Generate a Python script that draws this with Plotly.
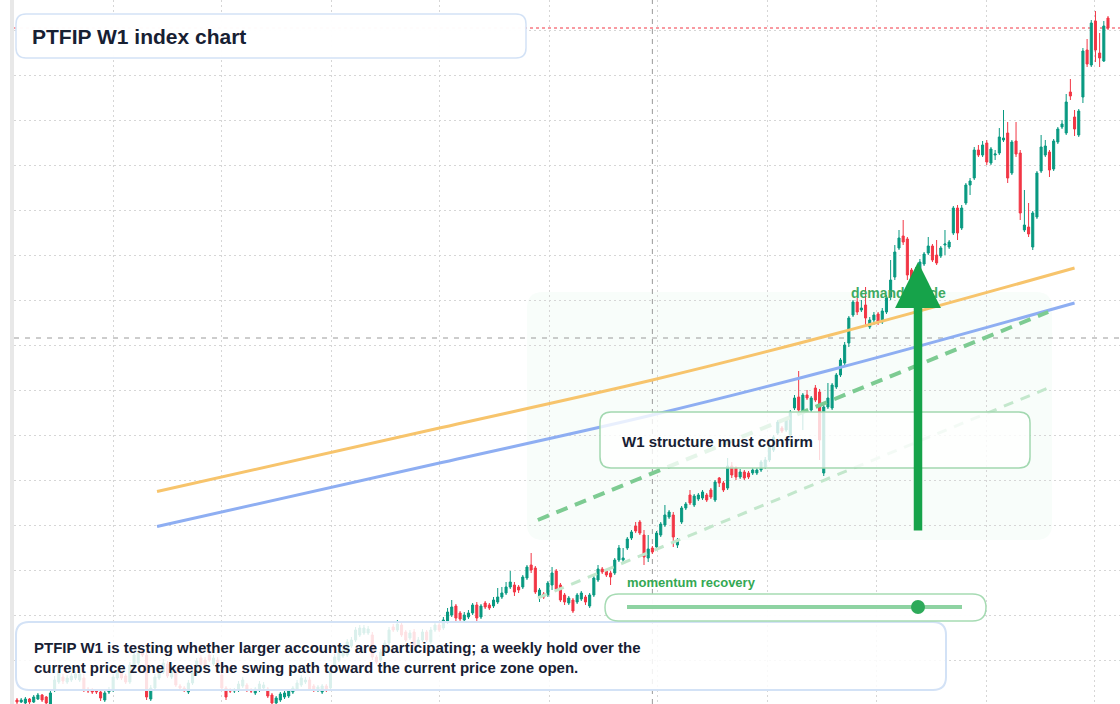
import pandas as pd
import plotly.graph_objects as go

# ---------------- data (weekly candles) ----------------
start_date = "2020-07-23"
n_weeks = 262
dates = pd.date_range(start_date, periods=n_weeks, freq="7D")

open_ = [105,103,102,106,103,106,110,108,101,115,123,128,123,125,127,125,127,116,115,115,
         113,105,113,115,127,132,129,123,138,142,155,150,106,117,127,133,141,128,134,119,
         117,113,122,131,147,145,150,141,145,130,117,115,114,115,119,120,115,112,115,117,
         116,110,102,105,108,109,113,116,120,123,125,119,115,113,119,117,140,145,149,150,
         159,165,170,172,172,170,148,145,153,162,178,175,180,173,167,173,160,165,173,163,
         175,180,177,183,190,199,192,185,188,192,200,188,202,200,199,203,208,212,218,220,
         218,218,227,240,237,208,211,210,220,234,220,210,202,205,203,206,208,199,210,225,
         236,234,232,232,245,245,257,267,279,283,270,247,257,258,270,280,288,290,260,283,
         297,310,300,306,307,310,315,305,327,322,317,339,337,328,333,332,332,332,335,338,
         345,355,372,377,375,370,397,408,393,410,395,417,413,332,398,397,418,430,442,462,
         490,503,495,500,478,485,491,483,493,508,528,557,569,566,535,525,535,541,552,559,
         550,549,560,558,572,597,577,602,620,627,655,650,662,642,650,652,665,672,632,664,
         652,575,578,558,588,634,650,653,636,663,678,672,713,688,670,708,755,740,784,752,
         744,787]
high = [107,107,108,107,110,112,111,109,115,129,138,131,130,132,134,136,131,118,117,116,
        115,114,118,131,136,134,131,143,153,156,157,153,120,131,138,146,144,139,137,121,
        119,125,135,147,150,148,153,150,148,133,119,117,117,124,128,122,117,118,124,123,
        118,112,109,113,114,116,119,125,130,128,128,121,120,121,121,138,151,156,158,166,
        168,178,180,180,179,173,150,156,165,178,181,185,183,175,175,176,168,176,175,178,
        183,182,188,197,205,201,194,193,195,202,203,201,204,202,208,217,218,223,234,223,
        220,230,240,252,239,217,213,224,238,236,222,212,209,207,212,214,210,212,229,240,
        238,236,234,247,260,257,268,275,283,285,275,270,259,274,283,300,295,293,267,299,
        303,315,311,312,315,312,317,325,328,324,347,343,339,336,335,334,337,337,345,348,
        362,370,385,379,388,395,410,434,412,415,409,420,416,400,422,422,432,447,463,489,
        505,507,505,518,488,493,493,497,510,545,560,575,585,568,537,538,546,553,568,561,
        565,559,575,565,599,600,600,622,627,658,660,664,665,658,655,677,695,683,665,683,
        655,615,602,594,634,670,665,655,666,678,685,711,726,695,696,757,766,785,794,772,
        784,789]
low = [101,102,101,101,102,105,103,101,100,113,121,121,121,123,125,123,113,112,111,111,
       104,103,111,113,125,125,121,121,136,140,148,105,104,115,125,131,127,126,118,115,
       113,111,120,129,139,138,143,139,135,115,105,112,112,113,117,113,112,110,113,115,
       107,100,100,103,106,107,111,114,118,121,114,113,113,111,113,115,138,143,147,148,
       157,163,168,170,170,145,141,143,151,160,173,173,168,163,165,158,158,163,163,161,
       173,173,175,181,188,184,183,183,186,190,184,186,196,195,197,201,206,210,216,209,
       212,216,225,232,211,203,206,208,215,214,203,200,200,192,201,204,200,197,208,223,
       231,228,220,230,243,243,255,265,272,270,240,243,251,256,268,278,286,258,257,281,
       295,300,298,304,305,303,306,303,318,313,315,327,325,326,325,326,330,330,333,336,
       343,353,370,372,373,368,395,392,375,405,393,403,345,329,396,395,416,428,440,458,
       488,490,493,480,476,480,480,481,491,505,525,555,560,525,520,522,533,539,550,543,
       540,547,550,556,570,565,575,600,610,625,648,648,640,640,645,650,663,622,630,648,
       585,573,568,555,586,632,648,628,634,661,676,670,705,669,668,702,738,738,743,738,
       743,775]
close = [103,105,106,103,108,110,105,102,112,125,134,124,127,129,131,131,115,114,113,113,
         107,112,115,128,133,127,123,140,150,152,150,108,117,128,135,142,129,136,120,117,
         115,122,132,144,141,140,145,147,137,117,108,114,115,121,125,115,114,116,121,120,
         109,102,107,111,112,114,117,122,127,125,116,115,118,119,115,135,148,153,155,163,
         165,175,177,177,176,148,143,153,162,175,175,181,170,165,172,160,165,173,165,175,
         180,175,185,193,198,187,186,190,192,200,187,199,198,197,205,208,212,218,223,213,
         215,228,238,235,213,215,208,222,232,216,205,203,207,194,210,212,203,210,227,236,
         233,230,228,245,257,247,266,273,274,272,248,256,253,272,281,290,293,268,265,297,
         301,302,309,310,313,305,308,323,322,315,339,330,328,333,327,328,335,335,343,345,
         360,368,383,374,385,393,407,395,410,407,407,405,365,398,407,420,430,445,460,487,
         503,493,497,487,485,490,483,494,507,525,553,567,563,530,525,535,543,551,559,545,
         542,557,561,563,597,572,597,620,624,655,650,660,643,656,651,668,667,627,663,651,
         592,580,571,592,632,658,659,635,664,676,681,703,709,676,694,754,741,782,755,747,
         779,777]

# drawn guide lines (week index, level)
ma_idx = [33.5, 100, 152, 196, 253]
ma_orange = [313.5, 376, 425, 471.5, 537]
ma_blue = [278.5, 341, 390, 436.5, 502]
chan_idx = [124.6, 246.7]
chan_upper = [285, 493]
chan_lower = [207, 417]
crosshair_week = 152
crosshair_level = 467
last_close = close[-1]

# ---------------- helpers ----------------
W, H = 1120, 704
ML = 14
PW = W - ML
t0 = pd.Timestamp(start_date)
STEP = (1108 - 17) / 261.0  # px per week


def wk(i):
    return t0 + pd.Timedelta(days=7 * i)


def X(p):
    return (p - ML) / PW


def Y(p):
    return 1 - p / H


def rr(x0, y0, x1, y1, r):
    def P(x, y):
        return f"{X(x):.5f},{Y(y):.5f}"
    return (f"M{P(x0 + r, y0)} L{P(x1 - r, y0)} Q{P(x1, y0)} {P(x1, y0 + r)} "
            f"L{P(x1, y1 - r)} Q{P(x1, y1)} {P(x1 - r, y1)} L{P(x0 + r, y1)} "
            f"Q{P(x0, y1)} {P(x0, y1 - r)} L{P(x0, y0 + r)} Q{P(x0, y0)} {P(x0 + r, y0)} Z")


GREEN = "#089981"
RED = "#f23645"
FONT = "Liberation Sans, Arial, sans-serif"
DARK = "#172033"

fig = go.Figure()

fig.add_trace(go.Candlestick(
    x=dates, open=open_, high=high, low=low, close=close,
    increasing=dict(line=dict(color=GREEN, width=1), fillcolor=GREEN),
    decreasing=dict(line=dict(color=RED, width=1), fillcolor=RED),
    showlegend=False, hoverinfo="skip",
))

fig.add_trace(go.Scatter(x=[wk(i) for i in ma_idx], y=ma_orange, mode="lines",
                         line=dict(color="#f7c46c", width=3, shape="spline"),
                         showlegend=False, hoverinfo="skip"))
fig.add_trace(go.Scatter(x=[wk(i) for i in ma_idx], y=ma_blue, mode="lines",
                         line=dict(color="#8eaef2", width=3, shape="spline"),
                         showlegend=False, hoverinfo="skip"))
fig.add_trace(go.Scatter(x=[wk(i) for i in chan_idx], y=chan_upper, mode="lines",
                         line=dict(color="#7dcb92", width=4, dash="12px,8px"),
                         showlegend=False, hoverinfo="skip"))
fig.add_trace(go.Scatter(x=[wk(i) for i in chan_idx], y=chan_lower, mode="lines",
                         line=dict(color="#c3e7cc", width=3, dash="10px,8px"),
                         showlegend=False, hoverinfo="skip"))

shapes = []
# demand zone
shapes.append(dict(type="path", xref="paper", yref="paper", path=rr(527, 292, 1052, 540, 16),
                   fillcolor="rgba(34,197,94,0.03)", line=dict(width=0), layer="below"))
# crosshair
shapes.append(dict(type="line", xref="x", yref="paper", x0=dates[crosshair_week], x1=dates[crosshair_week],
                   y0=0, y1=1, line=dict(color="#9a9a9a", width=1, dash="5px,5px"), layer="between"))
shapes.append(dict(type="line", xref="paper", yref="y", x0=0, x1=1, y0=crosshair_level, y1=crosshair_level,
                   line=dict(color="#9a9a9a", width=1, dash="5px,6px"), layer="between"))
# last price line
shapes.append(dict(type="line", xref="paper", yref="y", x0=0, x1=1, y0=last_close, y1=last_close,
                   line=dict(color=RED, width=1, dash="dot"), layer="between"))
# left strip
shapes.append(dict(type="rect", xref="paper", yref="paper", x0=X(10), x1=X(14), y0=0, y1=1,
                   fillcolor="#e8e8e8", line=dict(width=0), layer="above"))
# title box
shapes.append(dict(type="path", xref="paper", yref="paper", path=rr(16, 14, 526, 58, 10),
                   fillcolor="rgba(255,255,255,0.97)", line=dict(color="#d3e2f6", width=1.5), layer="above"))
# bottom text box
shapes.append(dict(type="path", xref="paper", yref="paper", path=rr(16, 622, 946, 690, 13),
                   fillcolor="rgba(255,255,255,0.85)", line=dict(color="#d3e2f6", width=2), layer="above"))
# W1 box
shapes.append(dict(type="path", xref="paper", yref="paper", path=rr(600, 412, 1030, 468, 11),
                   fillcolor="rgba(255,255,255,0.8)", line=dict(color="#a2d8b0", width=1.5), layer="above"))
# slider pill
shapes.append(dict(type="path", xref="paper", yref="paper", path=rr(605, 594, 986, 621, 13.5),
                   fillcolor="rgba(255,255,255,0.95)", line=dict(color="#a6dbb3", width=1.5), layer="above"))
shapes.append(dict(type="line", xref="paper", yref="paper", x0=X(627), x1=X(962), y0=Y(607), y1=Y(607),
                   line=dict(color="#8ed3a2", width=4), layer="above"))
shapes.append(dict(type="circle", xref="paper", yref="paper", x0=X(911), x1=X(925), y0=Y(614), y1=Y(600),
                   fillcolor="#2eaa5a", line=dict(width=0), layer="above"))

annotations = [
    dict(xref="paper", yref="paper", x=X(30), y=Y(36), xanchor="left", yanchor="middle",
         text="<b>PTFIP W1 index chart</b>", showarrow=False,
         font=dict(family=FONT, size=21, color=DARK)),
    dict(xref="paper", yref="paper", x=X(32), y=Y(657.5), xanchor="left", yanchor="middle", align="left",
         text="<b>PTFIP W1 is testing whether larger accounts are participating; a weekly hold over the<br>"
              "current price zone keeps the swing path toward the current price zone open.</b>",
         showarrow=False, font=dict(family=FONT, size=15, color=DARK)),
    dict(xref="paper", yref="paper", x=X(620), y=Y(441), xanchor="left", yanchor="middle",
         text="<b>W1 structure must confirm</b>", showarrow=False,
         font=dict(family=FONT, size=15, color=DARK)),
    dict(xref="paper", yref="paper", x=X(625), y=Y(582), xanchor="left", yanchor="middle",
         text="<b>momentum recovery</b>", showarrow=False,
         font=dict(family=FONT, size=13, color="#34a853")),
    dict(xref="paper", yref="paper", x=X(849), y=Y(293), xanchor="left", yanchor="middle",
         text="<b>demand guide</b>", showarrow=False,
         font=dict(family=FONT, size=14, color="#3faa62")),
    dict(xref="paper", yref="paper", x=X(918), y=Y(262), ax=0, ay=270, axref="pixel", ayref="pixel",
         text="", showarrow=True, arrowhead=2, arrowwidth=8.5, arrowsize=1.08,
         arrowcolor="#16a34a", standoff=0),
]

fig.update_layout(
    width=W, height=H,
    margin=dict(l=ML, r=0, t=0, b=0, pad=0),
    paper_bgcolor="white", plot_bgcolor="white",
    shapes=shapes, annotations=annotations,
    showlegend=False,
    xaxis=dict(
        type="date",
        range=[t0 - pd.Timedelta(days=7 * 3 / STEP), t0 + pd.Timedelta(days=7 * (1120 - 17) / STEP)],
        rangeslider=dict(visible=False),
        showticklabels=False, ticks="",
        showgrid=True, gridcolor="#d6d6d6", griddash="2px,3px", gridwidth=1,
        dtick="M6", tick0="2021-01-01",
        zeroline=False, showline=False,
    ),
    yaxis=dict(
        range=[101, 805],
        showticklabels=False, ticks="",
        showgrid=True, gridcolor="#d6d6d6", griddash="2px,3px", gridwidth=1,
        tick0=100, dtick=45,
        zeroline=False, showline=False,
    ),
)

fig.write_html("out.html", config={"displayModeBar": False})
